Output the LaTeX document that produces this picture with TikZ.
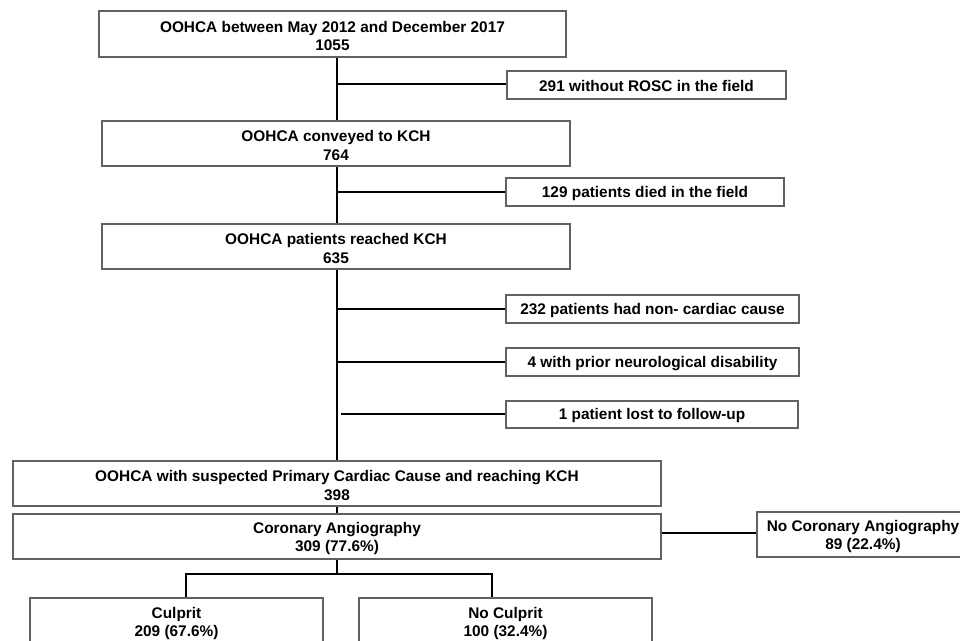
\documentclass[tikz,border=0pt]{standalone}
\usepackage{fontspec}
\setmainfont{Liberation Sans}
\begin{document}
\begin{tikzpicture}[x=1pt,y=-1pt,
  box/.style={draw=black!62, line width=1.1pt, fill=white, inner sep=0pt},
  txt/.style={inner sep=0pt, align=center, font=\fontsize{15.4}{18.5}\selectfont\bfseries},
  link/.style={draw=black, line width=1.6pt}]
\useasboundingbox (0,0) rectangle (960,640);
% main boxes
\node[box, minimum width=467pt, minimum height=46pt] (b1) at (332.5,34) {};
\node[box, minimum width=468pt, minimum height=45pt] (b2) at (336,143.5) {};
\node[box, minimum width=468pt, minimum height=45pt] (b3) at (336,246.5) {};
\node[box, minimum width=648pt, minimum height=45pt] (b4) at (337,483.5) {};
\node[box, minimum width=648pt, minimum height=45pt] (b5) at (337,536.5) {};
\node[box, minimum width=212pt, minimum height=45pt] (nca) at (863,534.5) {};
\node[box, minimum width=293pt, minimum height=46pt] (cul) at (176.5,621) {};
\node[box, minimum width=293pt, minimum height=46pt] (ncul) at (505.5,621) {};
% side boxes
\node[box, minimum width=279pt, minimum height=28pt] (r1) at (646.5,85) {};
\node[box, minimum width=278pt, minimum height=28pt] (r2) at (645,192) {};
\node[box, minimum width=293pt, minimum height=28pt] (r3) at (652.5,309) {};
\node[box, minimum width=293pt, minimum height=28pt] (r4) at (652.5,362) {};
\node[box, minimum width=292pt, minimum height=27pt] (r5) at (652,414.5) {};
% texts
\node[txt] (b1t) at ([yshift=-1.8pt]b1.center) {OOHCA between May 2012 and December 2017\\1055};
\node[txt] (b2t) at ([yshift=-1.8pt]b2.center) {OOHCA conveyed to KCH\\764};
\node[txt] (b3t) at ([yshift=-1.8pt]b3.center) {OOHCA patients reached KCH\\635};
\node[txt] (b4t) at ([yshift=-1.8pt]b4.center) {OOHCA with suspected Primary Cardiac Cause and reaching KCH\\398};
\node[txt] (b5t) at ([yshift=-1.8pt]b5.center) {Coronary Angiography\\309 (77.6\%)};
\node[txt] (ncat) at ([yshift=-1.8pt]nca.center) {No Coronary Angiography\\89 (22.4\%)};
\node[txt] (cult) at ([yshift=-2.3pt]cul.center) {Culprit\\209 (67.6\%)};
\node[txt] (ncult) at ([yshift=-2.3pt]ncul.center) {No Culprit\\100 (32.4\%)};
\node[txt] (r1t) at ([yshift=-1.3pt]r1.center) {291 without ROSC in the field};
\node[txt] (r2t) at ([yshift=-1.3pt]r2.center) {129 patients died in the field};
\node[txt] (r3t) at ([yshift=-1.3pt]r3.center) {232 patients had non- cardiac cause};
\node[txt] (r4t) at ([yshift=-1.3pt]r4.center) {4 with prior neurological disability};
\node[txt] (r5t) at ([yshift=-1.3pt]r5.center) {1 patient lost to follow-up};
% trunk coordinates
\coordinate (t1) at (337,84);
\coordinate (t2) at (337,192);
\coordinate (t3) at (337,309);
\coordinate (t4) at (337,362);
\coordinate (t5) at (341,414);
\coordinate (s1) at (337,533);
\coordinate (tr) at (337,574);
\coordinate (tl) at (186,574);
\coordinate (trr) at (492,574);
% connectors
\draw[link] (b1.south -| t1) -- (b2.north -| t1);
\draw[link] (t1) -- (t1 -| r1.west);
\draw[link] (b2.south -| t2) -- (b3.north -| t2);
\draw[link] (t2) -- (t2 -| r2.west);
\draw[link] (b3.south -| t3) -- (b4.north -| t3);
\draw[link] (t3) -- (t3 -| r3.west);
\draw[link] (t4) -- (t4 -| r4.west);
\draw[link] (t5) -- (t5 -| r5.west);
\draw[link] (b4.south -| t3) -- (b5.north -| t3);
\draw[link] (s1 -| b5.east) -- (s1 -| nca.west);
\draw[link] (b5.south -| tr) -- (tr);
\draw[link] (tl |- cul.north) -- (tl) -- (trr) -- (trr |- ncul.north);
\end{tikzpicture}
\end{document}
